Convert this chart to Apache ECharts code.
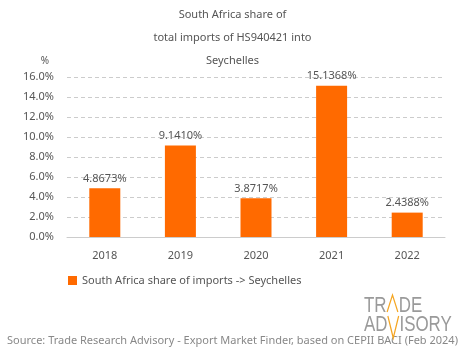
<!DOCTYPE html>
<html><head><meta charset="utf-8">
<script src="https://cdn.jsdelivr.net/npm/echarts@6/dist/echarts.min.js"></script>
<style>html,body{margin:0;padding:0;background:#fff}#c{width:465px;height:359px}</style>
</head><body><div id="c"></div>
<script>
const categories = ['2018','2019','2020','2021','2022'];
const shareValues = [4.8673, 9.1410, 3.8717, 15.1368, 2.4388];
const seriesName = 'South Africa share of imports -> Seychelles';
const titleText = 'South Africa share of\ntotal imports of HS940421 into\nSeychelles';
const sourceText = 'Source: Trade Research Advisory - Export Market Finder, based on CEPII BACI (Feb 2024)';

const FONT = '"Noto Sans", sans-serif';
const LOGO_FONT = '300 22px "Liberation Sans", sans-serif';
const chart = echarts.init(document.getElementById('c'));
chart.setOption({
  animation: false,
  title: {
    text: titleText, left: 'center', top: -2,
    textStyle: {fontFamily: FONT, fontSize: 11, fontWeight: 'normal', color: '#555', lineHeight: 23}
  },
  grid: {left: 67, right: 20, top: 77, bottom: 122, containLabel: false},
  legend: {
    data: [seriesName], left: 63, top: 270, itemWidth: 9, itemHeight: 9, itemGap: 5,
    icon: 'rect',
    textStyle: {fontFamily: FONT, fontSize: 11, color: '#555'}
  },
  xAxis: {
    type: 'category', data: categories,
    axisLine: {lineStyle: {color: '#ccc'}}, axisTick: {show: false},
    axisLabel: {fontFamily: FONT, fontSize: 11, color: '#555', margin: 13}
  },
  yAxis: {
    type: 'value', min: 0, max: 16, interval: 2,
    name: '%', nameLocation: 'end', nameGap: 11,
    nameTextStyle: {fontFamily: FONT, fontSize: 10, color: '#555', align: 'right', padding: [0, 18, 0, 0]},
    axisLabel: {fontFamily: FONT, fontSize: 11, color: '#555', formatter: v => v.toFixed(1) + '%', margin: 13},
    splitLine: {lineStyle: {color: '#ccc', type: [4, 3]}},
    axisLine: {show: false}, axisTick: {show: false}
  },
  series: [{
    name: seriesName, type: 'bar', data: shareValues, barWidth: 31,
    itemStyle: {color: '#ff6a00'},
    label: {show: true, position: 'top', distance: 4, fontFamily: FONT, fontSize: 11, color: '#555',
      formatter: p => p.value.toFixed(4) + '%'}
  }],
  graphic: [
    {type: 'text', left: 'center', top: 335, style: {text: sourceText, font: '11px ' + FONT, fill: '#888'}},
    {type: 'group', x: 364, y: 295, scaleX: 0.77, children: [
      {type: 'text', x: 0, y: 0, style: {text: 'TR', font: LOGO_FONT, fill: '#9a9a9a'}},
      {type: 'polyline', shape: {points: [[30, 17], [37, 0], [44, 17]]}, style: {stroke: '#f5a623', lineWidth: 1.6, fill: null}},
      {type: 'text', x: 45, y: 0, style: {text: 'DE', font: LOGO_FONT, fill: '#9a9a9a'}},
      {type: 'text', x: 0, y: 19, style: {text: 'AD', font: LOGO_FONT, fill: '#9a9a9a'}},
      {type: 'polyline', shape: {points: [[31, 21], [38, 43], [45, 21]]}, style: {stroke: '#f5a623', lineWidth: 1.6, fill: null}},
      {type: 'text', x: 46, y: 19, style: {text: 'ISORY', font: LOGO_FONT, fill: '#9a9a9a'}}
    ]}
  ]
});
</script></body></html>
